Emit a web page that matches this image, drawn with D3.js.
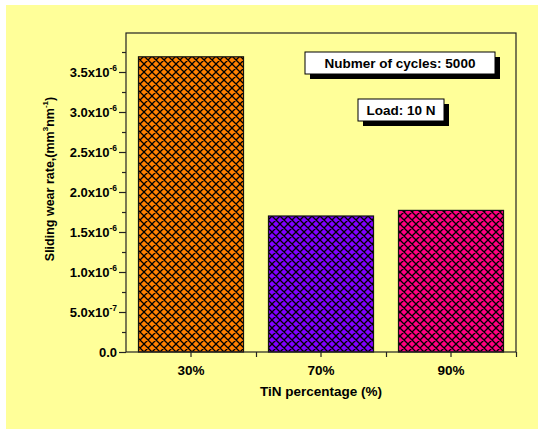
<!DOCTYPE html>
<html>
<head>
<meta charset="utf-8">
<script src="https://cdn.jsdelivr.net/npm/d3@7/dist/d3.min.js"></script>
<style>
  html, body { margin: 0; padding: 0; background: #ffffff; }
  svg { display: block; }
  text { font-family: "Liberation Sans", Arial, sans-serif; font-weight: bold; fill: #000; }
</style>
</head>
<body>
<svg id="chart" width="538" height="429"></svg>
<script>
// Sliding wear rate for each TiN content
const categories = ["30%", "70%", "90%"];
const wearRate = [3.69e-6, 1.70e-6, 1.77e-6];
const barColors = ["#ff8000", "#8000ff", "#ff0080"];
const yTicks = [0, 0.5e-6, 1.0e-6, 1.5e-6, 2.0e-6, 2.5e-6, 3.0e-6, 3.5e-6];
const yMinorTicks = [0.25e-6, 0.75e-6, 1.25e-6, 1.75e-6, 2.25e-6, 2.75e-6, 3.25e-6, 3.75e-6];
const notes = ["Nubmer of cycles: 5000", "Load: 10 N"];

const svg = d3.select("#chart");
const plot = { left: 126, right: 516, top: 33, bottom: 352 };

// page background
svg.append("rect").attr("x", 6).attr("y", 5).attr("width", 532).attr("height", 424)
  .attr("fill", "#ffff99");

const x = d3.scaleBand().domain(categories).range([plot.left, plot.right])
  .paddingInner(0.192).paddingOuter(0.096);
const xGroups = d3.scaleLinear().domain([0, categories.length]).range([plot.left, plot.right]);
const y = d3.scaleLinear().domain([0, 4e-6]).range([plot.bottom, plot.top - 1]);

// cross-hatch fills
const defs = svg.append("defs");
barColors.forEach((c, i) => {
  const p = defs.append("pattern").attr("id", "hatch" + i)
    .attr("patternUnits", "userSpaceOnUse").attr("width", 8).attr("height", 8)
    .attr("x", 0).attr("y", 0);
  p.append("rect").attr("width", 8).attr("height", 8).attr("fill", c);
  p.append("path").attr("d", "M0,0L8,8M8,0L0,8M-1,1L1,-1M7,9L9,7M-1,7L1,9M7,-1L9,1")
    .attr("stroke", "#000").attr("stroke-width", 1.3).attr("fill", "none");
});

// bars
svg.append("g").selectAll("rect").data(wearRate).join("rect")
  .attr("x", (d, i) => x(categories[i]))
  .attr("y", d => y(d))
  .attr("width", x.bandwidth())
  .attr("height", d => y(0) - y(d))
  .attr("fill", (d, i) => `url(#hatch${i})`)
  .attr("stroke", "#111").attr("stroke-width", 1.2);

// frame
svg.append("rect").attr("x", plot.left).attr("y", plot.top)
  .attr("width", plot.right - plot.left).attr("height", plot.bottom - plot.top)
  .attr("fill", "none").attr("stroke", "#222").attr("stroke-width", 1.2);

// y axis
function sciLabel(sel, v) {
  if (v === 0) { sel.text("0.0"); return; }
  const e = Math.floor(Math.log10(v) + 1e-9);
  const m = v / Math.pow(10, e);
  sel.text(null);
  sel.append("tspan").text(m.toFixed(1) + "x10");
  sel.append("tspan").attr("dy", -6).attr("font-size", 8.5).text(String(e));
}
const yAxis = svg.append("g").attr("transform", `translate(${plot.left},0)`)
  .call(d3.axisLeft(y).tickValues(yTicks).tickSize(7).tickFormat(""));
yAxis.select(".domain").remove();
yAxis.selectAll(".tick line").attr("stroke", "#222").attr("stroke-width", 1.2);
yAxis.selectAll(".tick").each(function (d) {
  d3.select(this).append("text").attr("x", -9).attr("dy", "0.35em")
    .attr("text-anchor", "end").attr("font-size", 13)
    .call(t => sciLabel(t, d));
});
const yMinor = svg.append("g").attr("transform", `translate(${plot.left},0)`)
  .call(d3.axisLeft(y).tickValues(yMinorTicks).tickSize(4).tickFormat(""));
yMinor.select(".domain").remove();
yMinor.selectAll(".tick line").attr("stroke", "#222").attr("stroke-width", 1.2);

// x axis
const xAxis = svg.append("g").attr("transform", `translate(0,${plot.bottom})`)
  .call(d3.axisBottom(x).tickSize(5).tickPadding(8));
xAxis.select(".domain").remove();
xAxis.selectAll(".tick line").attr("stroke", "#222").attr("stroke-width", 1.2);
xAxis.selectAll(".tick text").attr("font-size", 13.5).attr("font-family", null).attr("fill", "#000");
const xMinor = svg.append("g").attr("transform", `translate(0,${plot.bottom})`)
  .call(d3.axisBottom(xGroups).tickValues(d3.range(1, categories.length + 1)).tickSize(5).tickFormat(""));
xMinor.select(".domain").remove();
xMinor.selectAll(".tick line").attr("stroke", "#222").attr("stroke-width", 1.2);

// axis titles
svg.append("text").attr("x", (plot.left + plot.right) / 2).attr("y", 396)
  .attr("text-anchor", "middle").attr("font-size", 13.5).text("TiN percentage (%)");
const yt = svg.append("text").attr("transform", "translate(53.5,179) rotate(-90)")
  .attr("text-anchor", "middle").attr("font-size", 12.5);
yt.append("tspan").text("Sliding wear rate,(mm");
yt.append("tspan").attr("dy", -6).attr("font-size", 8).text("3");
yt.append("tspan").attr("dy", 6).text("nm");
yt.append("tspan").attr("dy", -6).attr("font-size", 8).text("-1");
yt.append("tspan").attr("dy", 6).text(")");

// note boxes with drop shadow
const boxes = [
  { x: 305, y: 52, w: 190, h: 22 },
  { x: 358, y: 99, w: 86, h: 22 }
];
notes.forEach((n, i) => {
  const b = boxes[i];
  svg.append("rect").attr("x", b.x + 5).attr("y", b.y + 5).attr("width", b.w).attr("height", b.h).attr("fill", "#000");
  svg.append("rect").attr("x", b.x).attr("y", b.y).attr("width", b.w).attr("height", b.h)
    .attr("fill", "#fff").attr("stroke", "#000").attr("stroke-width", 1);
  svg.append("text").attr("x", b.x + b.w / 2).attr("y", b.y + b.h / 2).attr("dy", "0.36em")
    .attr("text-anchor", "middle").attr("font-size", 13.5).text(n);
});
</script>
</body>
</html>
